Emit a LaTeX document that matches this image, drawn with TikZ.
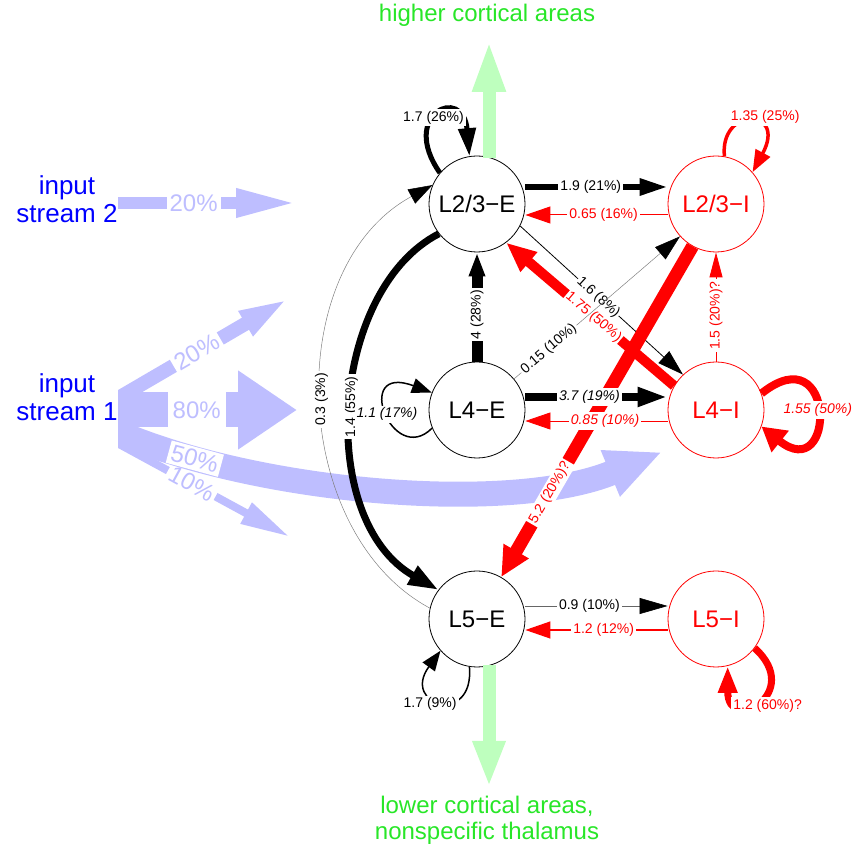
\documentclass[tikz,border=0pt]{standalone}
\usepackage{fontspec}
\setmainfont{Liberation Sans}
\usetikzlibrary{arrows.meta}

\definecolor{txtgreen}{RGB}{40,230,40}
\definecolor{paleGreen}{RGB}{190,255,190}
\definecolor{paleBlue}{RGB}{190,190,255}
\newcommand{\lblfont}{\fontsize{14}{16}\selectfont}
\newcommand{\bigfont}{\fontsize{24}{26}\selectfont}
\newcommand{\inputfont}{\fontsize{26}{28}\selectfont}

\tikzset{
  cell/.style={circle, draw, line width=0.8pt, fill=white, minimum size=96pt, inner sep=0pt, font=\bigfont},
  inhcell/.style={cell, draw=red, text=red},
  lbl/.style={fill=white, inner sep=2pt, text=black, font=\lblfont},
  lbli/.style={lbl, font=\lblfont\itshape},
  rlbl/.style={lbl, text=red},
  rlbli/.style={lbli, text=red},
  bluelbl/.style={fill=white, inner sep=3pt, text=paleBlue, font=\bigfont},
  hd/.style 2 args={-{Triangle[length=#1pt,width=#2pt]}},
  hdk/.style 2 args={-{Triangle[length=#1pt,width=#2pt,color=black]}},
}

\begin{document}
\begin{tikzpicture}[x=1pt,y=1pt]
\useasboundingbox (0,0) rectangle (853,853);

% cells
\node[cell] (l23e) at (477,649) {L2/3−E};
\node[cell] (l4e) at (477,443) {L4−E};
\node[cell] (l5e) at (477,234) {L5−E};
\node[inhcell] (l23i) at (716,649) {L2/3−I};
\node[inhcell] (l4i) at (716,443) {L4−I};
\node[inhcell] (l5i) at (716,234) {L5−I};

% texts
\node[text=txtgreen, font=\bigfont] (hca) at (487,838) {higher cortical areas};
\node[text=txtgreen, font=\bigfont, align=center] (lca) at (487,33) {lower cortical areas,\\nonspecific thalamus};
\node[text=blue, font=\inputfont, align=center] (in2) at (67,654) {input\\stream 2};
\node[text=blue, font=\inputfont, align=center] (in1) at (67,456) {input\\stream 1};

% input streams
\coordinate (s2a) at (118,650);
\coordinate (s2b) at (298,650);
\draw[paleBlue, line width=12pt, hd={62}{26}] (s2a) -- (s2b) node[bluelbl, pos=0.42] (p1) {20\%};
\begin{scope}
\clip (118,0) rectangle (853,853);
\coordinate (s1g) at (108,415);
\coordinate (s1h) at (290,316);
\draw[paleBlue, line width=8pt, hd={50}{22}] (s1g) -- (s1h) node[bluelbl, sloped, pos=0.46] (p2) {10\%};
\coordinate (s1a) at (108,449);
\coordinate (s1b) at (293,557);
\draw[paleBlue, line width=14pt, hd={55}{24}] (s1a) -- (s1b) node[bluelbl, sloped, pos=0.48] (p3) {20\%};
\coordinate (s1c) at (118,443);
\coordinate (s1d) at (297,443);
\draw[paleBlue, line width=35pt, hd={59}{75}] (s1c) -- (s1d) node[bluelbl, pos=0.44, minimum height=38pt, inner xsep=5pt] (p4) {80\%};
\coordinate (s1e) at (108,425);
\coordinate (s1f) at (662,401);
\draw[paleBlue, line width=25pt, hd={56}{46}] (s1e) .. controls (250,360) and (510,338) .. (s1f) node[bluelbl, sloped, pos=0.18] (p5) {50\%};
\end{scope}

% output streams
\coordinate (hiTip) at (489,813);
\coordinate (loTip) at (489,66);
\draw[paleGreen, line width=13pt, hd={52}{30}] ([xshift=12pt,yshift=-2pt]l23e.north) -- (hiTip);
\draw[paleGreen, line width=13pt, hd={46}{30}] ([xshift=12pt,yshift=2pt]l5e.south) -- (loTip);

% layer 2/3
\draw[line width=5pt, hd={28}{17}] (l23e.140) .. controls +(125:72) and +(95:72) .. (l23e.99) node[lbl, pos=0.45] (t1) {1.7 (26\%)};
\draw[line width=6pt, hd={28}{16}] ([yshift=17pt]l23e.east) -- ([yshift=17pt]l23i.west) node[lbl, pos=0.46] (t2) {1.9 (21\%)};
\draw[red, line width=1pt, hd={25}{17}] ([yshift=-11pt]l23i.west) -- ([yshift=-11pt]l23e.east) node[rlbl, pos=0.45] (t3) {0.65 (16\%)};
\draw[red, line width=3.5pt, hd={22}{16}] (l23i.80) .. controls +(-5,50) and +(35,65) .. (l23i.41) node[rlbl, pos=0.55, xshift=12pt, yshift=5pt] (t4) {1.35 (25\%)};

% between layers
\draw[line width=0.8pt, hd={26}{16}] (l23e.-27) -- (l4i.133) node[lbl, sloped, pos=0.48, inner sep=1pt] (t5) {1.6 (8\%)};
\draw[red, line width=10pt, hd={30}{24}] (l4i.150) -- (l23e.-53) node[rlbl, sloped, pos=0.48, inner sep=1pt] (t6) {1.75 (50\%)};
\draw[black!50, line width=0.5pt, hdk={26}{16}] (l4e.40) -- (l23i.222) node[lbl, sloped, pos=0.21] (t7) {0.15 (10\%)};
\draw[line width=11pt, hd={24}{15}] (l4e.north) -- (l23e.south) node[lbl, sloped, pos=0.43] (t8) {4 (28\%)};
\draw[red, line width=0.8pt, hd={25}{13}] (l4i.north) -- (l23i.south) node[rlbl, sloped, pos=0.42] (t9) {1.5 (20\%)?};
\draw[red, line width=13pt, hd={30}{27}] (l23i.241) -- (l5e.60) node[rlbl, sloped, pos=0.745] (t10) {5.2 (20\%)?};
\draw[line width=7pt, hd={30}{20}] (l23e.218) .. controls (330,563) and (315,333) .. (l5e.143) node[lbl, pos=0.5, rotate=90] (t11) {1.4 (55\%)};
\draw[black!50, line width=0.5pt, hdk={24}{16}] (l5e.167) .. controls (290,320) and (280,585) .. (l23e.157) node[lbl, pos=0.5, rotate=90] (t12) {0.3 (3\%)};

% layer 4
\draw[line width=1.5pt, hd={20}{15}] (l4e.202) .. controls +(-40,-40) and +(-80,30) .. (l4e.159) node[lbli, pos=0.5] (t13) {1.1 (17\%)};
\draw[line width=8pt, hd={30}{18}] ([yshift=13pt]l4e.east) -- ([yshift=13pt]l4i.west) node[lbli, pos=0.45] (t14) {3.7 (19\%)};
\draw[red, line width=0.8pt, hd={25}{17}] ([yshift=-11pt]l4i.west) -- ([yshift=-11pt]l4e.east) node[rlbli, pos=0.44] (t15) {0.85 (10\%)};
\draw[red, line width=8pt, hd={24}{26}] (l4i.20) .. controls +(75,60) and +(75,-60) .. (l4i.-20) node[rlbli, pos=0.5] (t16) {1.55 (50\%)};

% layer 5
\draw[black!60, line width=0.6pt, hdk={28}{16}] ([yshift=13pt]l5e.east) -- ([yshift=13pt]l5i.west) node[lbl, pos=0.45] (t17) {0.9 (10\%)};
\draw[red, line width=1.2pt, hd={25}{17}] ([yshift=-11pt]l5i.west) -- ([yshift=-11pt]l5e.east) node[rlbl, pos=0.45] (t18) {1.2 (12\%)};
\draw[line width=1.5pt, hd={20}{15}] (l5e.261) .. controls +(5,-60) and +(-40,-55) .. (l5e.221) node[lbl, pos=0.55, xshift=-8pt, yshift=-4pt] (t19) {1.7 (9\%)};
\draw[red, line width=7pt, hd={27}{18}] (l5i.-37) .. controls +(50,-45) and +(0,-70) .. (l5i.-76) node[rlbl, pos=0.6, xshift=16pt, yshift=-3pt] (t20) {1.2 (60\%)?};

\end{tikzpicture}
\end{document}
